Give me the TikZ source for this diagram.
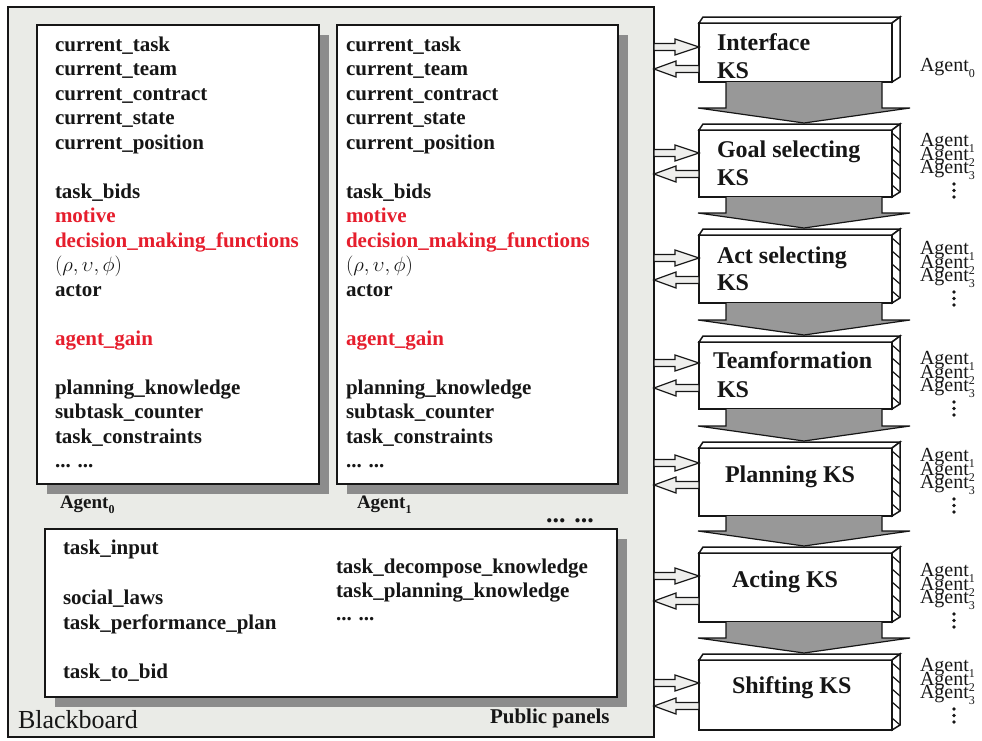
\documentclass[tikz,border=0pt]{standalone}
\usepackage{fontspec}
\setmainfont{Liberation Serif}
\usetikzlibrary{calc,shadows}

\definecolor{boardgray}{RGB}{234,235,231}
\definecolor{shadowgray}{RGB}{140,140,140}
\definecolor{flowgray}{RGB}{152,152,152}
\definecolor{hollowfill}{RGB}{238,238,236}
\definecolor{fieldred}{RGB}{230,30,45}
\definecolor{ink}{RGB}{22,22,22}

% small lowered index used in the agent names
\newcommand\lowidx[1]{\raisebox{-0.3em}{\fontsize{12}{12}\selectfont #1}}
% tight line stacking that ignores the depth of the lowered indices
\newcommand\tightlines{\lineskiplimit-50pt\relax}

% the slots of one agent panel: #1 = x of the text, #2 = name prefix
\newcommand\agentfields[2]{%
  \foreach \txt/\row/\clr [count=\k] in {%
    current\_task/0/ink, current\_team/1/ink, current\_contract/2/ink,
    current\_state/3/ink, current\_position/4/ink,
    task\_bids/6/ink, motive/7/fieldred, decision\_making\_functions/8/fieldred,
    {$(\rho,\upsilon,\phi)$}/9/ink, actor/10/ink, agent\_gain/12/fieldred,
    planning\_knowledge/14/ink, subtask\_counter/15/ink,
    task\_constraints/16/ink}
    \node[field, text=\clr] (#2-\k) at (#1, 51+24.5*\row) {\txt};
  \node[field] (#2-more) at (#1, 467.5) {... ...};
}

% a knowledge-source block with its top and side faces
% #1 = name, #2 = top y, #3 = bottom y, #4 = 1 for a hatched side
\newcommand\ksbox[4]{%
  \node[ks, minimum height={#3pt-#2pt}] (#1) at (699,#2) {};
  \draw[kface] (#1.north west) -- ++(4,-6) -- ($(#1.north east)+(8,-6)$)
    -- (#1.north east) -- cycle;
  \draw[kface] (#1.north east) -- ++(8,-6) -- ($(#1.south east)+(8,-5)$)
    -- (#1.south east) -- cycle;
  \ifnum#4=1
    \foreach \d in {3,16,29,42}
      \draw[kline] ($(#1.north east)+(0,\d)$) -- ++(8,7);
    \draw[kline] ($(#1.south east)+(0,-12)$) -- ++(8,7);
  \fi
}

% broad grey arrow from one block down to the next
\newcommand\ksflow[2]{%
  \coordinate (fa) at ($(#1.south)+(8.5,0)$);
  \coordinate (fb) at ($(#2.north)+(8.5,-7)$);
  \fill[flowgray] ($(fa)+(-78,0)$) -- ($(fa |- fb)+(-78,-15)$)
    -- ($(fa |- fb)+(-106,-15)$) -- (fb) -- ($(fa |- fb)+(106,-15)$)
    -- ($(fa |- fb)+(78,-15)$) -- ($(fa)+(78,0)$) -- cycle;
  \draw[flowline] ($(fa)+(-78,0)$) -- ($(fa |- fb)+(-78,-15)$)
    -- ($(fa |- fb)+(-106,-15)$) -- (fb) -- ($(fa |- fb)+(106,-15)$)
    -- ($(fa |- fb)+(78,-15)$) -- ($(fa)+(78,0)$);
}

% hollow arrow from the blackboard into a block (#2 = offset below its top)
\newcommand\pushks[2]{%
  \coordinate (hT) at ($(#1.north west)+(0,#2)$);
  \coordinate (hS) at (bb.east |- hT);
  \draw[hollow] ($(hS)+(0,-3.5)$) -- ($(hT)+(-24,-3.5)$) -- ($(hT)+(-24,-8)$)
    -- (hT) -- ($(hT)+(-24,8)$) -- ($(hT)+(-24,3.5)$) -- ($(hS)+(0,3.5)$) -- cycle;
}
% hollow arrow from a block back to the blackboard
\newcommand\pullks[2]{%
  \coordinate (hT) at ($(#1.north west)+(0,#2)$);
  \coordinate (hS) at (bb.east |- hT);
  \draw[hollow] (hS) -- ($(hS)+(22,-8)$) -- ($(hS)+(22,-3.5)$)
    -- ($(hT)+(0,-3.5)$) -- ($(hT)+(0,3.5)$) -- ($(hS)+(22,3.5)$)
    -- ($(hS)+(22,8)$) -- cycle;
}

% the agents served by a block (#2 = baseline of the first name),
% followed by a column of three dots
\newcommand\agentstack[2]{%
  \node[astack] (#1) at (920,#2-13.6) {Agent\lowidx{1}\\Agent\lowidx{2}\\Agent\lowidx{3}};
  \foreach \d in {37,43.5,50}
    \fill[ink] (954,#2+\d) circle[radius=1.9];
}

\begin{document}
\begin{tikzpicture}[x=1pt, y=-1pt, line join=miter,
  every node/.style={outer sep=0pt},
  board/.style={draw=ink, line width=1.4pt, fill=boardgray, inner sep=0pt, anchor=north west},
  panel/.style={draw=ink, line width=1.8pt, fill=white, inner sep=0pt, anchor=north west,
    drop shadow={shadow xshift=10pt, shadow yshift=-10pt, fill=shadowgray, opacity=1}},
  field/.style={anchor=base west, inner sep=0pt, text=ink,
    font=\fontsize{21}{24}\selectfont\bfseries},
  plain/.style={field, font=\fontsize{21}{24}\selectfont\bfseries},
  plabel/.style={anchor=base west, inner sep=0pt, text=ink,
    font=\fontsize{19}{22}\selectfont\bfseries},
  ks/.style={draw=ink, line width=1.8pt, fill=white, inner sep=0pt, anchor=north west,
    minimum width=193pt},
  kface/.style={draw=ink, line width=1.5pt, fill=white},
  kline/.style={draw=ink, line width=1.2pt},
  kslab/.style={anchor=base west, inner sep=0pt, text=ink,
    font=\fontsize{24}{28}\selectfont\bfseries},
  alab/.style={anchor=base west, inner sep=0pt, text=ink,
    font=\fontsize{20}{22}\selectfont},
  astack/.style={anchor=north west, inner sep=0pt, text=ink, align=left,
    font={\fontsize{20}{13.5}\selectfont\tightlines}},
  flowline/.style={draw=ink, line width=1.2pt},
  hollow/.style={draw=ink, line width=1.2pt, fill=hollowfill}]

\useasboundingbox (0,0) rectangle (982,740);

% blackboard with the two agent panels and the public panel
\node[board, minimum width=646pt, minimum height=730pt] (bb) at (8,7) {};
\node[panel, minimum width=282pt, minimum height=459pt] (p0) at (37,25) {};
\node[panel, minimum width=281pt, minimum height=459pt] (p1) at (337,25) {};
\node[panel, minimum width=572pt, minimum height=168pt] (pub) at (45,529) {};

\agentfields{55}{a0}
\agentfields{346}{a1}

\node[plabel] (lab0) at (60,508) {Agent\lowidx{0}};
\node[plabel] (lab1) at (357,508) {Agent\lowidx{1}};
\node[anchor=base, inner sep=0pt, text=ink, font=\fontsize{26}{28}\selectfont\bfseries]
  (more) at (570,522) {... ...};

\node[plain] (pub-1) at (63,554) {task\_input};
\node[plain] (pub-2) at (63,604) {social\_laws};
\node[plain] (pub-3) at (63,629) {task\_performance\_plan};
\node[plain] (pub-4) at (63,678) {task\_to\_bid};
\node[plain] (pub-5) at (336,573) {task\_decompose\_knowledge};
\node[plain] (pub-6) at (336,597) {task\_planning\_knowledge};
\node[plain] (pub-7) at (336,620) {... ...};

\node[anchor=base west, inner sep=0pt, text=ink, font=\fontsize{26}{28}\selectfont]
  (bbname) at (18,728) {Blackboard};
\node[plabel, font=\fontsize{21}{24}\selectfont\bfseries] (pubname) at (490,723) {Public panels};

% knowledge sources
\ksbox{ks1}{23}{82}{0}
\ksbox{ks2}{130}{197}{1}
\ksbox{ks3}{235}{303}{1}
\ksbox{ks4}{342}{409}{1}
\ksbox{ks5}{448}{516}{1}
\ksbox{ks6}{553}{622}{1}
\ksbox{ks7}{660}{730}{1}

\ksflow{ks1}{ks2}
\ksflow{ks2}{ks3}
\ksflow{ks3}{ks4}
\ksflow{ks4}{ks5}
\ksflow{ks5}{ks6}
\ksflow{ks6}{ks7}

\pushks{ks1}{24}  \pullks{ks1}{46}
\pushks{ks2}{23}  \pullks{ks2}{44}
\pushks{ks3}{23}  \pullks{ks3}{45}
\pushks{ks4}{21}  \pullks{ks4}{46}
\pushks{ks5}{15}  \pullks{ks5}{37}
\pushks{ks6}{23}  \pullks{ks6}{48}
\pushks{ks7}{23}  \pullks{ks7}{46}

\node[kslab] (ks1-a) at (717,50) {Interface};
\node[kslab] (ks1-b) at (717,78) {KS};
\node[kslab] (ks2-a) at (717,157) {Goal selecting};
\node[kslab] (ks2-b) at (717,185) {KS};
\node[kslab] (ks3-a) at (717,263) {Act selecting};
\node[kslab] (ks3-b) at (717,290) {KS};
\node[kslab] (ks4-a) at (713,368) {Teamformation};
\node[kslab] (ks4-b) at (717,397) {KS};
\node[kslab] (ks5-a) at (725,482) {Planning KS};
\node[kslab] (ks6-a) at (732,587) {Acting KS};
\node[kslab] (ks7-a) at (732,693) {Shifting KS};

% agents attached to each knowledge source
\node[alab] (ag0) at (920,71) {Agent\lowidx{0}};
\agentstack{g2}{147}
\agentstack{g3}{255}
\agentstack{g4}{365}
\agentstack{g5}{462}
\agentstack{g6}{577}
\agentstack{g7}{672}

\end{tikzpicture}
\end{document}
